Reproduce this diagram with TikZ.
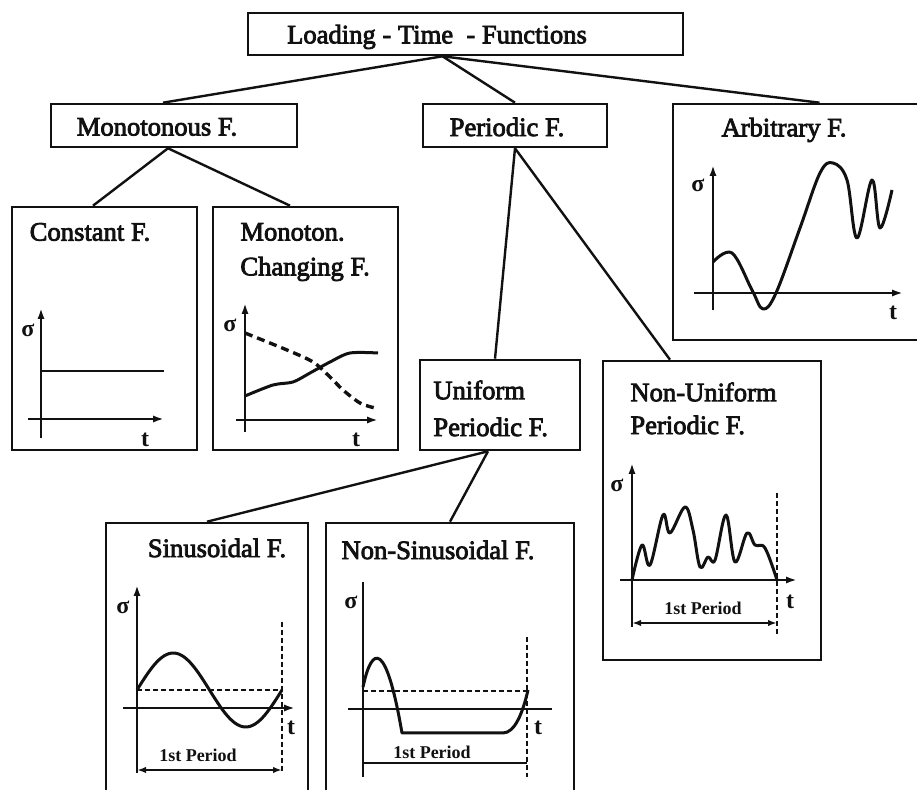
\documentclass[tikz,border=0pt]{standalone}
\usepackage{fontspec}
\setmainfont{Liberation Serif}
\newfontfamily\heavyfont{Liberation Serif}[UprightFeatures={FakeBold=3}]
\usepackage{xcolor}
\usepackage{tikz}
\usetikzlibrary{arrows.meta,fit,positioning}
\definecolor{INK}{HTML}{111111}

\begin{document}
\begin{tikzpicture}[
    x=0.5pt, y=-0.5pt,
    font=\heavyfont\fontsize{13.3}{16}\selectfont,
    box/.style={draw=INK, line width=1.3pt, inner sep=0pt},
    ttl/.style={text=INK, inner sep=0pt},
    ttll/.style={ttl, anchor=west},
    link/.style={draw=INK, line width=1.2pt},
    axis/.style={draw=INK, line width=1.2pt, -{Latex[length=5.5pt,width=3.6pt]}},
    plainaxis/.style={draw=INK, line width=1.2pt},
    curve/.style={draw=INK, line width=1.5pt, line join=round},
    guide/.style={draw=INK, line width=1.1pt, dash pattern=on 2.5pt off 1.5pt},
    periodarr/.style={draw=INK, line width=1.1pt, {Latex[length=4.5pt,width=3.2pt]}-{Latex[length=4.5pt,width=3.2pt]}},
    sig/.style={font=\rmfamily\fontsize{12}{13}\selectfont\bfseries, text=INK, inner sep=0pt},
    per/.style={font=\rmfamily\fontsize{9}{10}\selectfont\bfseries, text=INK, inner sep=0pt},
  ]

  \clip (0,0) rectangle (917,790);

  % ===== tree boxes =====
  \node[box, fit={(248,13) (683,55)}] (root) {};
  \node[ttl] (roottxt) at (437,37) {Loading - Time\ \ - Functions};

  \node[box, fit={(51,104) (297,147)}] (mono) {};
  \node[ttl] at (157,127) {Monotonous F.};

  \node[box, fit={(423,104) (607,147)}] (peri) {};
  \node[ttl] at (507,127) {Periodic F.};

  \node[box, fit={(673,104) (940,340)}] (arb) {};
  \node[ttl] at (784,130) {Arbitrary F.};

  \node[box, fit={(12,207) (197,450)}] (const) {};
  \node[ttl] at (90,232) {Constant F.};

  \node[box, fit={(213,207) (398,450)}] (monch) {};
  \node[ttll] at (240,232) {Monoton.};
  \node[ttll] at (240,269) {Changing F.};

  \node[box, fit={(420,360) (580,450)}] (unif) {};
  \node[ttll] at (433,390) {Uniform};
  \node[ttll] at (433,427) {Periodic F.};

  \node[box, fit={(603,361) (821,660)}] (nonunif) {};
  \node[ttll] at (630,392) {Non-Uniform};
  \node[ttll] at (630,425) {Periodic F.};

  \node[box, fit={(106,523) (308,810)}] (sinus) {};
  \node[ttl] at (217,548) {Sinusoidal F.};

  \node[box, fit={(326,523) (574,810)}] (nonsin) {};
  \node[ttl] at (438,550) {Non-Sinusoidal F.};

  % ===== connectors =====
  \draw[link] ([xshift=-11.5pt]root.south) -- ([xshift=-5.5pt]mono.north);
  \draw[link] ([xshift=-11.5pt]root.south) -- (peri.north);
  \draw[link] ([xshift=-11.5pt]root.south) -- ([xshift=6.5pt]arb.north);
  \draw[link] ([xshift=-3pt]mono.south) -- ([xshift=-5.75pt]const.north);
  \draw[link] ([xshift=-3pt]mono.south) -- ([xshift=-7.75pt]monch.north);
  \draw[link] (peri.south) -- ([xshift=-2.5pt]unif.north);
  \draw[link] (peri.south) -- ([xshift=-21pt]nonunif.north);
  \draw[link] ([xshift=-6pt]unif.south) -- (sinus.north);
  \draw[link] ([xshift=-6pt]unif.south) -- (nonsin.north);

  % ===== constant =====
  \draw[axis] (41,438) -- (41,308);
  \node[sig] at (28,330) {σ};
  \draw[axis] (28,419) -- (164,419);
  \node[sig] at (145,440) {t};
  \draw[curve, line width=1.2pt] (41,371) -- (164,371);

  % ===== monotonously changing =====
  \draw[axis] (245,432) -- (245,303);
  \node[sig] at (230,325) {σ};
  \draw[axis] (236,420) -- (378,420);
  \node[sig] at (356,440) {t};
  \draw[curve, line width=1.7pt, dash pattern=on 4pt off 2.5pt] plot[smooth] coordinates
    {(245,333) (287,350) (313,362) (330,377) (343,390) (360,403) (375,408)};
  \draw[curve] plot[smooth] coordinates
    {(245,396) (273,385) (293,382) (310,373) (330,362) (350,353) (378,353)};

  % ===== arbitrary =====
  \draw[axis] (713,310) -- (713,165);
  \node[sig] at (698,185) {σ};
  \draw[axis] (694,293) -- (903,293);
  \node[sig] at (893,313) {t};
  \draw[curve] plot[smooth, tension=0.6] coordinates
    {(713,262) (732,253) (752,290) (763,309) (776,293) (800,228) (820,173)
     (833,163) (847,180) (857,238) (872,180) (880,228) (892,190)};

  % ===== non-uniform periodic =====
  \draw[axis] (632,627) -- (632,463);
  \node[sig] at (617,485) {σ};
  \draw[axis] (620,580) -- (797,580);
  \node[sig] at (790,602) {t};
  \draw[guide] (777,493) -- (777,635);
  \draw[periodarr] (632,623) -- (777,623);
  \node[per] at (703,608) {1st Period};
  \draw[curve] plot[smooth, tension=0.6] coordinates
    {(632,580) (642,545) (650,565) (663,515) (670,533) (685,507) (693,530)
     (700,567) (708,557) (715,560) (726,515) (735,562) (747,533) (755,545)
     (765,548) (777,580)};

  % ===== sinusoidal =====
  \draw[axis] (137,773) -- (137,585);
  \node[sig] at (123,607) {σ};
  \draw[axis] (123,708) -- (295,708);
  \node[sig] at (291,728) {t};
  \draw[guide] (137,690) -- (282,690);
  \draw[guide] (282,622) -- (282,773);
  \draw[curve] plot[domain=0:145, samples=60] ({137+\x},{690-37*sin(\x/145*360)});
  \node[per] at (198,755) {1st Period};
  \draw[periodarr] (137,770) -- (282,770);

  % ===== non-sinusoidal =====
  \draw[plainaxis] (363,777) -- (363,582);
  \node[sig] at (351,602) {σ};
  \draw[plainaxis] (348,709) -- (552,709);
  \node[sig] at (538,728) {t};
  \draw[guide] (363,691) -- (527,691);
  \draw[guide] (527,637) -- (527,777);
  \draw[curve] (363,687) .. controls (372,645) and (386,640) .. (402,733)
    -- (503,733) .. controls (515,733) and (523,712) .. (528,690);
  \node[per] at (432,752) {1st Period};
  \draw[plainaxis, line width=1.1pt] (363,763) -- (527,763);

\end{tikzpicture}
\end{document}
